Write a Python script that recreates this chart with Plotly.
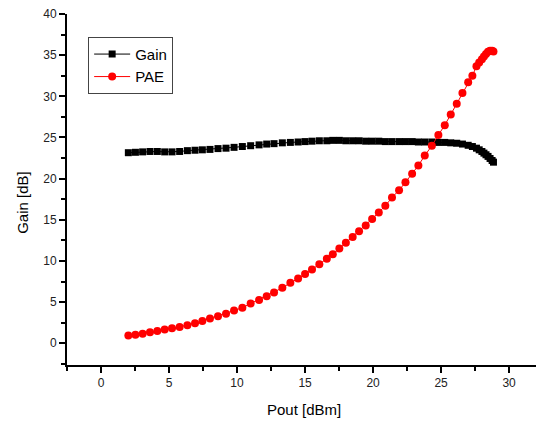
import plotly.graph_objects as go

pout = [2.01, 2.53, 3.06, 3.60, 4.14, 4.68, 5.22, 5.78, 6.35, 6.91, 7.45, 8.01, 8.60, 9.19, 9.78,
        10.39, 11.00, 11.62, 12.18, 12.72, 13.33, 13.92, 14.49, 15.00, 15.51, 16.05, 16.60, 17.04,
        17.52, 18.00, 18.50, 18.97, 19.46, 19.93, 20.42, 20.90, 21.39, 21.91, 22.38, 22.87, 23.33,
        23.80, 24.32, 24.80, 25.27, 25.71, 26.15, 26.57, 26.99, 27.30, 27.60, 27.80, 28.00, 28.15,
        28.30, 28.45, 28.60, 28.75, 28.85]

gain = [23.15, 23.2, 23.25, 23.3, 23.3, 23.25, 23.25, 23.3, 23.4, 23.45, 23.5, 23.55, 23.65, 23.7, 23.8,
        23.9, 24.0, 24.1, 24.2, 24.25, 24.35, 24.4, 24.45, 24.5, 24.55, 24.6, 24.6, 24.65,
        24.65, 24.6, 24.6, 24.6, 24.55, 24.55, 24.55, 24.5, 24.5, 24.5, 24.5, 24.5, 24.45,
        24.45, 24.45, 24.4, 24.4, 24.35, 24.3, 24.2, 24.05, 23.9, 23.7, 23.5, 23.3, 23.1,
        22.9, 22.7, 22.45, 22.2, 22.0]

pae = [0.95, 1.05, 1.17, 1.33, 1.50, 1.66, 1.82, 1.98, 2.19, 2.43, 2.71, 3.00, 3.28, 3.60, 3.97,
       4.33, 4.82, 5.27, 5.72, 6.16, 6.73, 7.34, 7.86, 8.43, 8.95, 9.61, 10.26, 10.82,
       11.5, 12.2, 12.9, 13.6, 14.3, 15.1, 15.9, 16.7, 17.7, 18.6, 19.55, 20.6, 21.6,
       22.8, 24.0, 25.3, 26.5, 27.8, 29.1, 30.4, 31.7, 32.5, 33.65, 34.1, 34.5, 34.85,
       35.15, 35.4, 35.55, 35.55, 35.45]

x_title = "Pout [dBm]"
y_title = "Gain [dB]"

FONT = "Arial, Liberation Sans, sans-serif"

fig = go.Figure()
fig.add_trace(go.Scatter(x=pout, y=gain, name="Gain", mode="lines+markers",
                         line=dict(color="black", width=1),
                         marker=dict(symbol="square", size=7, color="black")))
fig.add_trace(go.Scatter(x=pout, y=pae, name="PAE", mode="lines+markers",
                         line=dict(color="red", width=1),
                         marker=dict(symbol="circle", size=8, color="red")))

axis_common = dict(
    showline=True, linecolor="black", linewidth=2,
    ticks="outside", ticklen=6, tickwidth=1.5, tickcolor="black",
    showgrid=False, zeroline=False, automargin=False,
    ticklabeloverflow="allow",
    tickfont=dict(family=FONT, size=12, color="#222"),
)

fig.update_xaxes(range=[-2.5, 32.05], tick0=0, dtick=5,
                 minor=dict(ticks="outside", ticklen=4, tickwidth=1.5, tickcolor="black",
                            dtick=2.5, tick0=0, showgrid=False),
                 **axis_common)
fig.update_yaxes(range=[-2.64, 40], tick0=0, dtick=5,
                 minor=dict(ticks="outside", ticklen=4, tickwidth=1.5, tickcolor="black",
                            dtick=2.5, tick0=0, showgrid=False),
                 **axis_common)

fig.add_annotation(text=x_title, xref="paper", yref="paper", x=0.504, y=-0.128,
                   xanchor="center", yanchor="middle", showarrow=False,
                   font=dict(family=FONT, size=15, color="black"))
fig.add_annotation(text=y_title, xref="paper", yref="paper", x=-0.0964, y=0.464,
                   xanchor="center", yanchor="middle", showarrow=False, textangle=-90,
                   font=dict(family=FONT, size=15, color="black"))

# page body has an 8px default margin, so the figure is sized to fit the window
fig.update_layout(
    width=536, height=413,
    margin=dict(l=59, r=7, t=6, b=56),
    plot_bgcolor="white", paper_bgcolor="white",
    font=dict(family=FONT, color="black"),
    legend=dict(x=0.045, y=0.935, xanchor="left", yanchor="top",
                bordercolor="#444", borderwidth=1, bgcolor="white",
                font=dict(family=FONT, size=15, color="black"),
                tracegroupgap=0, itemwidth=36),
)

fig.write_html("out.html")
